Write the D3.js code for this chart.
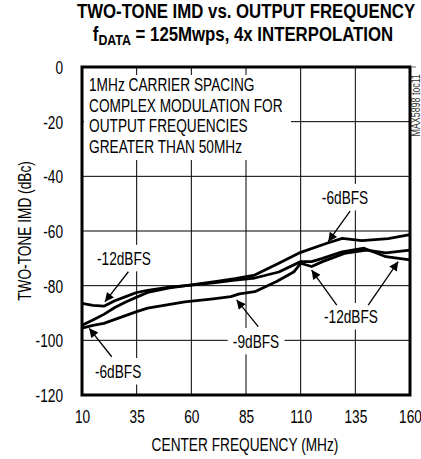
<!DOCTYPE html>
<html><head><meta charset="utf-8">
<script src="https://cdn.jsdelivr.net/npm/d3@7"></script>
<style>
html,body{margin:0;padding:0;background:#fff;}
text{font-family:"Liberation Sans",Arial,sans-serif;}
</style></head>
<body>
<svg id="chart" width="421" height="459"></svg>
<script>
// ---- data ----
const freqTicks = [10, 35, 60, 85, 110, 135, 160];
const imdTicks = [0, -20, -40, -60, -80, -100, -120];

const freq6  = [10, 15, 20, 25, 30, 35, 40, 50, 60, 70, 80, 89, 100, 110, 122, 129, 138, 150, 160];
const imd6   = [-94.5, -92.6, -90.5, -88, -86, -84.2, -82.5, -80.8, -79.7, -78.6, -77.4, -76.1, -71.8, -67.8, -64.5, -62.7, -63.5, -62.8, -61.3];

const freq9  = [10, 15, 20, 27, 35, 40, 57, 70, 78, 82, 89, 99, 107, 110, 115, 120, 130, 140, 149, 160];
const imd9   = [-95.5, -94.5, -93.8, -91.8, -89.5, -88.2, -85.9, -84.8, -84, -83, -82.2, -78.5, -74.9, -71.8, -73, -71.2, -68.2, -67, -68, -67];

const freq12 = [10, 15, 20, 25, 30, 35, 40, 50, 60, 70, 80, 89, 100, 110, 115, 120, 129, 139, 149, 160];
const imd12  = [-86.5, -87.2, -87.5, -85.5, -84, -82.5, -81.7, -80.5, -79.8, -79, -78, -77.2, -75, -71.2, -71.2, -70, -67.6, -66.3, -69.4, -70.6];

const noteLines = ["1MHz CARRIER SPACING", "COMPLEX MODULATION FOR", "OUTPUT FREQUENCIES", "GREATER THAN 50MHz"];

// labels: text, anchor point (freq, dB), arrows [fromFreq, fromDb, toFreq, toDb]
const labels = [
  {text: "-6dBFS",  f: 130.3, db: -50.1, arrows: [[132.6, -52.7, 122.6, -63.9]]},
  {text: "-12dBFS", f: 29.2,  db: -72.4, arrows: [[31.2, -74.9, 20.5, -85.9]]},
  {text: "-6dBFS",  f: 26.5,  db: -113.8, arrows: [[23.6, -106, 13.3, -95.6]]},
  {text: "-9dBFS",  f: 89.6,  db: -102.8, arrows: [[90.6, -95, 80.7, -85.2]]},
  {text: "-12dBFS", f: 133,   db: -93.7, arrows: [[126.5, -87.1, 115, -74.3], [140.9, -87.1, 154.6, -71.2]]}
];

// ---- layout ----
const NARROW = 0.74, FS = 18.5;
const svg = d3.select("#chart");
const L = 82, R = 410, T = 67, B = 395;
const x = d3.scaleLinear().domain([10, 160]).range([L, R]);
const y = d3.scaleLinear().domain([-120, 0]).range([B, T]);

// title
const tg1 = svg.append("g").attr("transform", `translate(246,18) scale(0.8,1)`);
tg1.append("text").attr("text-anchor", "middle")
  .attr("font-size", 21).attr("font-weight", "bold").text("TWO-TONE IMD vs. OUTPUT FREQUENCY");
const tg2 = svg.append("g").attr("transform", `translate(243,41) scale(0.8,1)`);
const t2 = tg2.append("text").attr("text-anchor", "middle")
  .attr("font-size", 21).attr("font-weight", "bold");
t2.append("tspan").text("f");
t2.append("tspan").attr("font-size", 15.5).attr("dy", 4).text("DATA");
t2.append("tspan").attr("dy", -4).text(" = 125Mwps, 4x INTERPOLATION");

// grid
const g = svg.append("g");
g.selectAll(".vg").data(freqTicks.slice(1, -1)).join("line")
  .attr("x1", d => x(d)).attr("x2", d => x(d)).attr("y1", T).attr("y2", B)
  .attr("stroke", "#000").attr("stroke-width", 1);
g.selectAll(".hg").data(imdTicks.slice(1, -1)).join("line")
  .attr("y1", d => y(d)).attr("y2", d => y(d)).attr("x1", L).attr("x2", R)
  .attr("stroke", "#000").attr("stroke-width", 1);

// axes tick labels
const xAxis = d3.axisBottom(x).tickValues(freqTicks).tickSize(0).tickPadding(0).tickFormat(d => String(d));
const xa = svg.append("g").attr("transform", `translate(0,${B + 15})`).call(xAxis);
xa.select(".domain").remove();
xa.selectAll("text").attr("font-size", FS).attr("dy", "0.7em").attr("fill", "#000")
  .attr("font-family", "Liberation Sans").attr("transform", `scale(${NARROW},1)`);
const yAxis = d3.axisLeft(y).tickValues(imdTicks).tickSize(0).tickPadding(0).tickFormat(d => String(d));
const ya = svg.append("g").attr("transform", `translate(${L - 19},0)`).call(yAxis);
ya.select(".domain").remove();
ya.selectAll("text").attr("font-size", FS).attr("dy", "0.35em").attr("fill", "#000")
  .attr("font-family", "Liberation Sans").attr("transform", `scale(${NARROW},1)`);

svg.append("text").attr("transform", `translate(245,451) scale(${NARROW},1)`).attr("text-anchor", "middle")
  .attr("font-size", FS).text("CENTER FREQUENCY (MHz)");
svg.append("text").attr("transform", `translate(31,${(T + B) / 2}) rotate(-90) scale(${NARROW},1)`)
  .attr("text-anchor", "middle").attr("font-size", FS).text("TWO-TONE IMD (dBc)");

svg.append("text").attr("transform", `translate(420,74) rotate(-90) scale(${NARROW},1)`)
  .attr("text-anchor", "end").attr("font-size", 12).attr("fill", "#333").text("MAX5898 toc11");

// note block with white background
svg.append("rect").attr("fill", "#fff").attr("x", L + 2).attr("y", T + 8)
  .attr("width", 291 - L - 2).attr("height", 160 - T - 8);
const noteText = svg.append("g").attr("transform", `translate(${L + 7},0) scale(${NARROW},1)`)
  .append("text").attr("font-size", FS);
noteLines.forEach((s, i) => noteText.append("tspan").attr("x", 0).attr("y", 91.5 + i * 20.5).text(s));

// curves
const line = d3.line().x(d => x(d[0])).y(d => y(d[1]));
const series = [[freq6, imd6], [freq9, imd9], [freq12, imd12]];
svg.append("g").selectAll("path").data(series).join("path")
  .attr("d", s => line(s[0].map((f, i) => [f, s[1][i]])))
  .attr("fill", "none").attr("stroke", "#000").attr("stroke-width", 2.8)
  .attr("stroke-linejoin", "round");

// labels and arrows
const defs = svg.append("defs");
defs.append("marker").attr("id", "ah").attr("viewBox", "0 0 10 10").attr("refX", 10).attr("refY", 5)
  .attr("markerWidth", 14).attr("markerHeight", 9).attr("markerUnits", "userSpaceOnUse")
  .attr("orient", "auto").append("path").attr("d", "M0,0 L10,5 L0,10 Z").attr("fill", "#000");

const lg = svg.append("g");
labels.forEach(l => {
  const grp = lg.append("g").attr("transform", `translate(${x(l.f)},${y(l.db)}) scale(${NARROW},1)`);
  const bg = grp.append("rect").attr("fill", "#fff");
  const t = grp.append("text").attr("text-anchor", "middle").attr("font-size", FS).text(l.text);
  const bb = t.node().getBBox();
  bg.attr("x", bb.x - 7).attr("y", bb.y - 3).attr("width", bb.width + 14).attr("height", bb.height + 6);
  l.arrows.forEach(a => {
    lg.append("line").attr("x1", x(a[0])).attr("y1", y(a[1])).attr("x2", x(a[2])).attr("y2", y(a[3]))
      .attr("stroke", "#000").attr("stroke-width", 1.3).attr("marker-end", "url(#ah)");
  });
});

// frame
svg.append("rect").attr("x", L).attr("y", T).attr("width", R - L).attr("height", B - T)
  .attr("fill", "none").attr("stroke", "#000").attr("stroke-width", 3);
svg.append("line").attr("x1", R + 2).attr("x2", R + 6).attr("y1", T).attr("y2", T)
  .attr("stroke", "#666").attr("stroke-width", 1);
</script>
</body></html>
